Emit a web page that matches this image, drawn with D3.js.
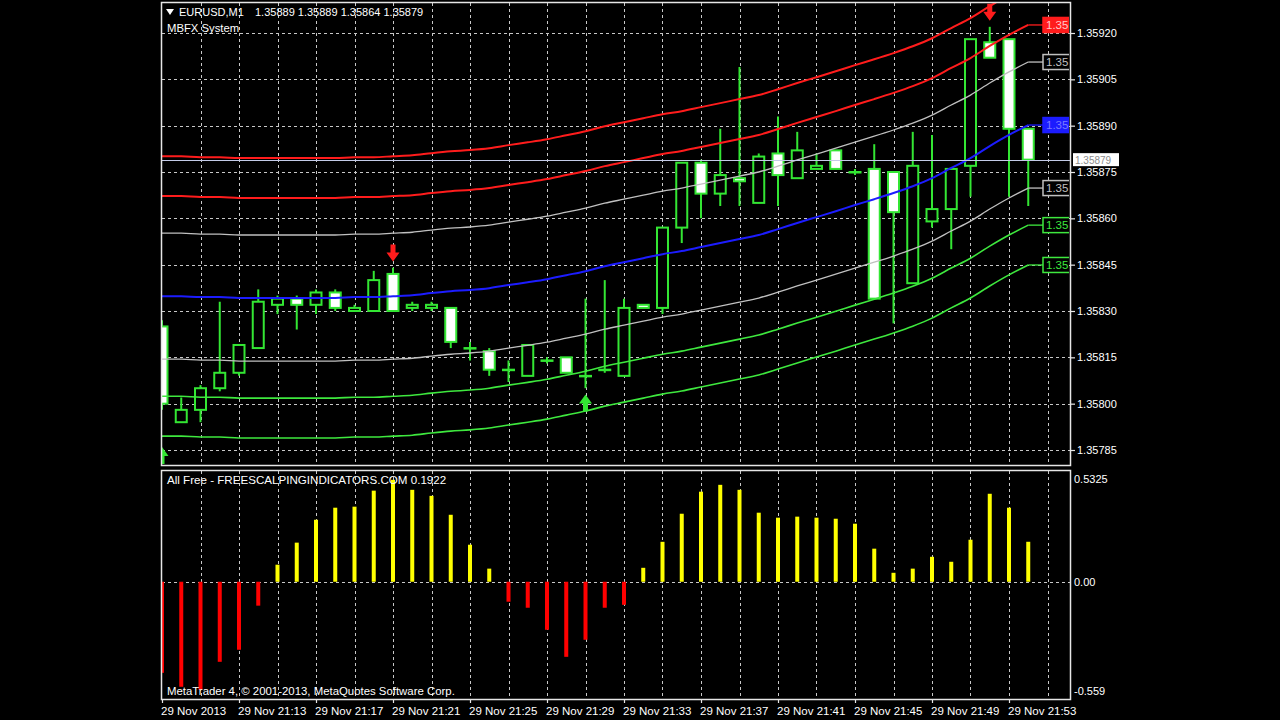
<!DOCTYPE html>
<html><head><meta charset="utf-8">
<script src="https://cdn.jsdelivr.net/npm/d3@7"></script>
<style>
body{margin:0;background:#000;overflow:hidden}
svg text{font-family:"Liberation Sans",Arial,sans-serif}
</style>
</head><body>
<svg id="c" width="1280" height="720"></svg>
<script>
// ---------- DATA ----------
const symbolTitle = "EURUSD,M1";
const headerValues = "1.35889 1.35889 1.35864 1.35879";
const indicatorTitle = "MBFX System";
const subTitle = "All Free - FREESCALPINGINDICATORS.COM 0.1922";
const footerText = "MetaTrader 4, \u00A9 2001-2013, MetaQuotes Software Corp.";

// one bar per minute, 21:09 .. 21:54
const opens  = [1.35825,1.35794,1.35798,1.35805,1.35810,1.35818,1.35832,1.35834,1.35832,1.35836,
                1.35830,1.35830,1.35842,1.35831,1.35831,1.35831,1.35818,1.35817,1.35811,1.35809,
                1.35814,1.35815,1.35809,1.35811,1.35809,1.35832,1.35831,1.35857,1.35878,1.35868,
                1.35873,1.35865,1.35881,1.35873,1.35876,1.35882,1.35875,1.35876,1.35875,1.35839,
                1.35859,1.35863,1.35877,1.35917,1.35918,1.35889];
const highs  = [1.35827,1.35802,1.35806,1.35833,1.35819,1.35837,1.35835,1.35835,1.35837,1.35837,
                1.35832,1.35843,1.35844,1.35833,1.35833,1.35831,1.35820,1.35818,1.35814,1.35819,
                1.35815,1.35815,1.35834,1.35840,1.35834,1.35832,1.35857,1.35878,1.35879,1.35889,
                1.35909,1.35881,1.35893,1.35888,1.35881,1.35882,1.35876,1.35884,1.35875,1.35888,
                1.35887,1.35876,1.35918,1.35922,1.35918,1.35889];
const lows   = [1.35798,1.35794,1.35794,1.35804,1.35809,1.35818,1.35829,1.35824,1.35829,1.35830,
                1.35830,1.35830,1.35830,1.35830,1.35830,1.35818,1.35814,1.35809,1.35807,1.35809,
                1.35813,1.35810,1.35805,1.35810,1.35809,1.35831,1.35829,1.35852,1.35860,1.35864,
                1.35864,1.35865,1.35864,1.35873,1.35876,1.35876,1.35874,1.35834,1.35826,1.35839,
                1.35857,1.35850,1.35867,1.35912,1.35867,1.35864];
const closes = [1.35800,1.35798,1.35805,1.35810,1.35819,1.35833,1.35834,1.35832,1.35836,1.35831,
                1.35831,1.35840,1.35830,1.35832,1.35832,1.35820,1.35818,1.35811,1.35811,1.35819,
                1.35814,1.35810,1.35809,1.35811,1.35831,1.35831,1.35857,1.35878,1.35868,1.35874,
                1.35872,1.35880,1.35874,1.35882,1.35877,1.35876,1.35875,1.35834,1.35862,1.35877,
                1.35863,1.35876,1.35918,1.35912,1.35889,1.35879];

// MBFX centre line (blue)
const centerLine = [1.358348,1.358348,1.358345,1.358345,1.358342,1.358342,1.358342,1.358342,1.358342,1.358342,
                    1.358345,1.358345,1.358348,1.358351,1.358358,1.358364,1.358368,1.358374,1.358384,1.358393,
                    1.358403,1.358416,1.358429,1.358445,1.358458,1.358471,1.358484,1.358494,1.358507,1.358520,
                    1.358533,1.358546,1.358565,1.358585,1.358604,1.358623,1.358643,1.358662,1.358682,1.358704,
                    1.358730,1.358763,1.358795,1.358834,1.358870,1.358902];
// band distances from the centre line (inner grey, middle red/green, outer red/green)
const bandOffsets = [0.000204, 0.000324, 0.000453];

// oscillator histogram
const histValues = [-0.438,-0.505,-0.519,-0.385,-0.327,-0.115,0.082,0.188,0.298,0.356,
                    0.361,0.438,0.490,0.442,0.413,0.322,0.178,0.063,-0.096,-0.125,
                    -0.231,-0.361,-0.279,-0.125,-0.111,0.067,0.192,0.327,0.433,0.466,
                    0.442,0.332,0.308,0.313,0.308,0.303,0.279,0.159,0.043,0.063,
                    0.120,0.096,0.202,0.423,0.356,0.1922];

const sellSignalBars = [12, 43];
const sellSignalPrices = [1.35846, 1.35924];
const buySignalBars = [0, 22];
const buySignalPrices = [1.35786, 1.35803];

const bidPrice = 1.35879;
const priceTicks = [1.35920,1.35905,1.35890,1.35875,1.35860,1.35845,1.35830,1.35815,1.35800,1.35785];
const subTicks = [0.5325, 0.00, -0.559];
const subTickLabels = ["0.5325", "0.00", "-0.559"];
const timeTickBars = [0,4,8,12,16,20,24,28,32,36,40,44];
const timeLabels = ["29 Nov 2013","29 Nov 21:13","29 Nov 21:17","29 Nov 21:21","29 Nov 21:25","29 Nov 21:29",
                    "29 Nov 21:33","29 Nov 21:37","29 Nov 21:41","29 Nov 21:45","29 Nov 21:49","29 Nov 21:53"];

// ---------- LAYOUT ----------
const svg = d3.select("#c");
const L = 161, R = 1071, MT = 2, MB = 466, ST = 470, SB = 699;
const x = d3.scaleLinear().domain([0, 46]).range([162, 1047.5]);
const y = d3.scaleLinear().domain([1.35785, 1.35920]).range([450, 33]);
const yh = d3.scaleLinear().domain([-0.559, 0.5325]).range([698, 471]);

const GREEN = "#33e633", RED = "#ff1c1c", BLUE = "#1c1cff", GRAY = "#c0c0c0", BGREEN = "#3ee83e";
const FONT = 11;

svg.append("rect").attr("width", 1280).attr("height", 720).attr("fill", "#000");
const defs = svg.append("defs");
defs.append("clipPath").attr("id", "clipMain").append("rect")
  .attr("x", L + 1).attr("y", MT + 1).attr("width", R - L - 1).attr("height", MB - MT - 1);
defs.append("clipPath").attr("id", "clipSub").append("rect")
  .attr("x", L + 1).attr("y", ST + 1).attr("width", R - L - 1).attr("height", SB - ST - 1);

// ---------- GRID ----------
const grid = svg.append("g").attr("stroke", "#c8c8c8").attr("stroke-width", 1).attr("stroke-dasharray", "3,3");
const vBars = d3.range(2, 47, 2);
grid.selectAll("line.vm").data(vBars).join("line").attr("class", "vm")
  .attr("x1", d => Math.round(x(d)) + 0.5).attr("x2", d => Math.round(x(d)) + 0.5)
  .attr("y1", MT + 1).attr("y2", MB);
grid.selectAll("line.vs").data(vBars).join("line").attr("class", "vs")
  .attr("x1", d => Math.round(x(d)) + 0.5).attr("x2", d => Math.round(x(d)) + 0.5)
  .attr("y1", ST + 1).attr("y2", SB);
grid.selectAll("line.h").data(priceTicks).join("line").attr("class", "h")
  .attr("x1", L + 1).attr("x2", R)
  .attr("y1", d => Math.round(y(d)) + 0.5).attr("y2", d => Math.round(y(d)) + 0.5);
grid.append("line").attr("x1", L + 1).attr("x2", R)
  .attr("y1", Math.round(yh(0)) + 0.5).attr("y2", Math.round(yh(0)) + 0.5);

// ---------- CANDLES ----------
const main = svg.append("g").attr("clip-path", "url(#clipMain)");
const idx = d3.range(opens.length);
const cg = main.append("g");
cg.selectAll("line.wick").data(idx).join("line").attr("class", "wick")
  .attr("x1", i => x(i)).attr("x2", i => x(i))
  .attr("y1", i => y(highs[i])).attr("y2", i => y(lows[i]))
  .attr("stroke", GREEN).attr("stroke-width", 2);
cg.selectAll("rect.body").data(idx).join("rect").attr("class", "body")
  .attr("x", i => x(i) - 5.5).attr("width", 11)
  .attr("y", i => y(Math.max(opens[i], closes[i])))
  .attr("height", i => Math.max(0.5, Math.abs(y(opens[i]) - y(closes[i]))))
  .attr("fill", i => closes[i] < opens[i] ? "#ffffff" : "#000000")
  .attr("stroke", GREEN).attr("stroke-width", 2);

// ---------- BANDS ----------
const line = d3.line().x((d, i) => x(i)).y(d => y(d)).curve(d3.curveMonotoneX);
const bands = [
  {off: -bandOffsets[2], color: BGREEN, w: 1.6, lab: "stroke"},
  {off: -bandOffsets[1], color: BGREEN, w: 1.6, lab: "stroke"},
  {off: -bandOffsets[0], color: GRAY, w: 1.3, lab: "stroke"},
  {off: 0, color: BLUE, w: 2, lab: "fill"},
  {off: bandOffsets[0], color: GRAY, w: 1.3, lab: "stroke"},
  {off: bandOffsets[1], color: RED, w: 2, lab: "fill"},
  {off: bandOffsets[2], color: RED, w: 2, lab: "fill"}
];
const last = centerLine.length - 1;
defs.append("clipPath").attr("id", "clipLab").append("rect")
  .attr("x", 1040).attr("y", MT + 1).attr("width", 29).attr("height", MB - MT - 1);
const labG = svg.append("g").attr("clip-path", "url(#clipLab)");
bands.forEach(b => {
  const vals = centerLine.map(c => c + b.off);
  main.append("path").datum(vals).attr("d", line)
    .attr("fill", "none").attr("stroke", b.color).attr("stroke-width", b.w);
  const yl = y(vals[last]);
  main.append("line").attr("x1", x(last)).attr("x2", 1043).attr("y1", yl).attr("y2", yl)
    .attr("stroke", b.color).attr("stroke-width", 1.3);
  if (yl - 7 < MT) return; // label lies above the visible chart
  labG.append("rect").attr("x", 1043).attr("y", yl - 7.5).attr("width", 40).attr("height", 15)
    .attr("fill", b.lab === "fill" ? b.color : "#000").attr("stroke", b.color).attr("stroke-width", 1.5);
  labG.append("text").attr("x", 1046).attr("y", yl + 4).attr("font-size", 11.5)
    .attr("fill", b.lab === "fill" ? (b.color === RED ? "#ffc8c8" : "#7a7aff") : b.color)
    .text(d3.format(".5f")(vals[last]).slice(0, 4));
});

// bid line
main.append("line").attr("x1", L + 1).attr("x2", R).attr("y1", Math.round(y(bidPrice)) + 0.5).attr("y2", Math.round(y(bidPrice)) + 0.5)
  .attr("stroke", "#c4cbe8").attr("stroke-width", 1);

// ---------- ARROWS ----------
function downArrow(cx, t) { return `M${cx-2.5},${t-17}h5v8h4L${cx},${t}L${cx-6.5},${t-9}h4Z`; }
function upArrow(cx, t) { return `M${cx-2.5},${t+17}h5v-8h4L${cx},${t}L${cx-6.5},${t+9}h4Z`; }
main.selectAll("path.sell").data(sellSignalBars).join("path").attr("class", "sell")
  .attr("d", (b, k) => downArrow(x(b), y(sellSignalPrices[k]))).attr("fill", RED);
main.selectAll("path.buy").data(buySignalBars).join("path").attr("class", "buy")
  .attr("d", (b, k) => upArrow(x(b), y(buySignalPrices[k]))).attr("fill", GREEN);

// ---------- HISTOGRAM ----------
const subG = svg.append("g").attr("clip-path", "url(#clipSub)");
subG.selectAll("rect.hist").data(histValues).join("rect").attr("class", "hist")
  .attr("x", (d, i) => x(i) - 2).attr("width", 4)
  .attr("y", d => yh(Math.max(d, 0))).attr("height", d => Math.abs(yh(d) - yh(0)))
  .attr("fill", d => d >= 0 ? "#ffff00" : "#ff0000");

// ---------- FRAMES ----------
svg.append("rect").attr("x", L + 0.5).attr("y", MT + 0.5).attr("width", R - L - 1).attr("height", MB - MT - 1)
  .attr("fill", "none").attr("stroke", "#e6e6e6").attr("stroke-width", 1.5);
svg.append("rect").attr("x", L + 0.5).attr("y", ST + 0.5).attr("width", R - L - 1).attr("height", SB - ST)
  .attr("fill", "none").attr("stroke", "#e6e6e6").attr("stroke-width", 1.5);

// ---------- TEXTS ----------
svg.append("path").attr("d", "M166,9h8l-4,6z").attr("fill", "#fff");
svg.append("text").attr("x", 179).attr("y", 16).attr("font-size", FONT).attr("fill", "#fff").text(symbolTitle);
svg.append("text").attr("x", 255).attr("y", 16).attr("font-size", FONT).attr("fill", "#fff").text(headerValues);
svg.append("text").attr("x", 167).attr("y", 32).attr("font-size", 11.3).attr("fill", "#fff").text(indicatorTitle);
svg.append("text").attr("x", 167).attr("y", 484).attr("font-size", 11.6).attr("fill", "#fff").text(subTitle);
svg.append("text").attr("x", 167).attr("y", 695).attr("font-size", 11.4).attr("fill", "#fff").text(footerText);

// bid label
const yb = y(bidPrice);
svg.append("rect").attr("x", 1073).attr("y", yb - 6.5).attr("width", 46).attr("height", 13).attr("fill", "#fff");
svg.append("text").attr("x", 1075).attr("y", yb + 4).attr("font-size", 10).attr("fill", "#8c8c8c").text(d3.format(".5f")(bidPrice));

// ---------- AXES ----------
function styleAxis(g) {
  g.select(".domain").remove();
  g.attr("font-family", "Liberation Sans, Arial, sans-serif").attr("font-size", FONT);
  g.selectAll(".tick line").attr("stroke", "#e6e6e6").attr("stroke-width", 1.2);
  g.selectAll(".tick text").attr("fill", "#fff");
}
svg.append("g").attr("transform", `translate(${R},0)`)
  .call(d3.axisRight(y).tickValues(priceTicks).tickFormat(d3.format(".5f")).tickSize(4).tickPadding(2))
  .call(styleAxis);

svg.append("g").attr("transform", `translate(0,${SB})`)
  .call(d3.axisBottom(x).tickValues(timeTickBars).tickFormat((d, i) => timeLabels[i]).tickSize(4).tickPadding(4))
  .call(styleAxis)
  .call(g => g.selectAll(".tick text").attr("text-anchor", "start").attr("dx", -1.5).attr("font-size", 11.5));

const subAxis = svg.append("g").attr("transform", `translate(${R},0)`)
  .call(d3.axisRight(yh).tickValues(subTicks).tickFormat((d, i) => subTickLabels[i]).tickSize(0).tickPadding(3))
  .call(styleAxis);
subAxis.selectAll(".tick text").attr("dy", (d, i) => i === 0 ? "1.05em" : (i === 2 ? "-0.35em" : "0.32em"));
</script>
</body></html>
